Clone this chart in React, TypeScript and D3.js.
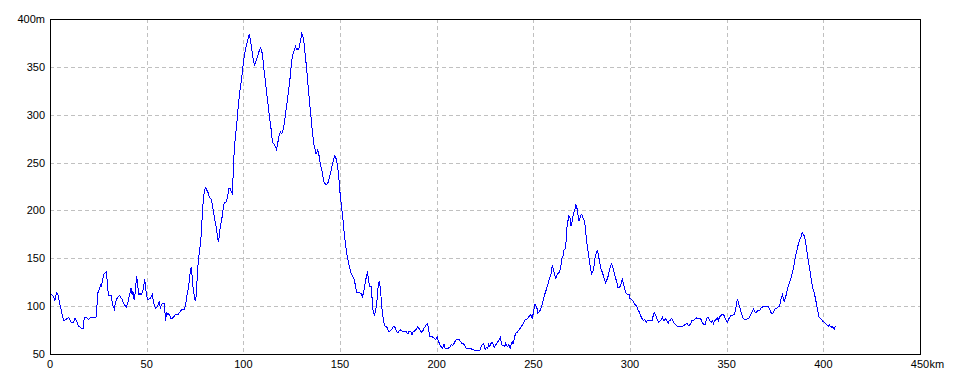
import React, { useEffect } from "react";
import * as d3 from "d3";

// distance along route (km) and elevation (m)
const distanceKm: number[] = [
  0, 0.5, 1.9, 2.4, 3.4, 4.1, 5.2, 6.2, 7.1, 8.1, 9.7, 11.0, 12.1, 12.9, 13.7, 14.8, 16.2, 17.2, 17.7, 19.0,
  19.8, 20.9, 23.1, 23.9, 24.3, 24.8, 25.7, 26.2, 26.5, 27.1, 27.8, 28.5, 29.3, 29.7, 30.5, 31.7, 32.4, 33.3, 34.0, 34.9,
  36.1, 37.3, 38.3, 39.5, 40.4, 41.3, 41.9, 42.5, 42.8, 43.5, 44.2, 44.7, 45.2, 45.7, 45.9, 46.6, 47.4, 48.1, 48.7, 49.0,
  49.5, 49.9, 50.6, 51.7, 52.9, 53.8, 54.6, 55.7, 56.5, 57.1, 57.8, 59.1, 59.8, 60.3, 60.9, 61.5, 62.6, 63.8, 64.7, 66.1,
  67.2, 68.1, 69.5, 70.2, 71.0, 71.6, 72.4, 73.0, 73.4, 74.0, 74.6, 75.1, 75.6, 75.9, 76.3, 76.8, 77.4, 77.9, 78.4, 78.8,
  79.3, 79.8, 80.4, 81.2, 81.9, 82.6, 83.3, 84.0, 84.7, 85.4, 86.1, 86.6, 87.1, 87.6, 88.1, 88.8, 89.4, 90.1, 91.3, 91.8,
  92.5, 93.2, 93.7, 94.2, 94.6, 94.9, 95.4, 95.9, 96.4, 97.0, 97.5, 98.0, 98.5, 99.1, 99.6, 100.1, 100.7, 101.2, 101.7, 102.2,
  102.8, 103.1, 103.6, 104.2, 104.7, 105.2, 105.7, 106.3, 106.8, 107.3, 107.8, 108.4, 108.9, 109.4, 110.0, 110.5, 111.0, 111.5, 112.1, 112.6,
  113.1, 113.6, 114.2, 114.7, 115.2, 115.9, 116.6, 117.1, 117.6, 118.1, 118.6, 119.2, 119.7, 120.2, 120.7, 121.2, 121.8, 122.3, 122.8, 123.3,
  123.9, 124.4, 124.9, 125.4, 126.0, 126.5, 127.0, 127.6, 128.1, 128.6, 129.1, 129.7, 130.2, 130.7, 131.2, 131.7, 132.2, 132.8, 133.3, 133.8,
  134.4, 134.9, 135.4, 135.9, 136.4, 137.0, 137.5, 138.0, 138.5, 139.1, 139.6, 140.1, 140.7, 141.2, 141.7, 142.2, 142.9, 143.6, 144.1, 144.6,
  145.2, 145.7, 146.2, 146.7, 147.3, 148.0, 148.5, 149.0, 149.5, 149.9, 150.4, 150.9, 151.4, 151.9, 152.5, 153.0, 153.5, 154.0, 154.5, 155.0,
  155.6, 156.1, 156.9, 157.4, 157.9, 158.5, 159.0, 160.1, 160.9, 161.6, 162.3, 162.8, 163.3, 163.8, 164.2, 164.7, 165.2, 165.8, 166.3, 166.8,
  167.4, 167.9, 168.4, 168.8, 169.3, 169.8, 170.3, 170.9, 171.4, 171.9, 172.5, 173.0, 173.5, 174.0, 174.5, 175.1, 175.8, 176.4, 177.1, 177.8,
  178.7, 179.4, 180.1, 180.6, 181.3, 182.2, 183.4, 184.4, 185.1, 185.8, 186.5, 187.2, 187.9, 188.5, 189.2, 189.7, 190.2, 190.8, 191.4, 192.1,
  192.8, 193.5, 194.2, 194.8, 195.3, 195.8, 196.3, 196.8, 197.7, 198.5, 199.4, 200.3, 200.8, 201.4, 202.2, 203.1, 203.8, 204.3, 205.2, 205.9,
  206.8, 207.6, 208.3, 209.0, 209.7, 210.3, 211.7, 212.4, 213.1, 213.8, 214.5, 215.2, 216.2, 217.2, 218.3, 219.3, 222.4, 222.9, 223.6, 224.1,
  224.6, 225.1, 225.8, 226.4, 226.9, 227.4, 228.1, 228.8, 229.3, 229.8, 230.5, 231.0, 231.7, 232.4, 232.9, 233.4, 233.9, 234.6, 235.2, 235.7,
  236.2, 236.7, 237.4, 238.0, 238.5, 239.0, 239.5, 240.0, 240.6, 241.1, 241.8, 242.5, 243.2, 243.9, 244.6, 245.3, 245.9, 246.6, 247.3, 248.0,
  248.7, 249.4, 249.9, 250.4, 250.9, 251.5, 252.0, 252.3, 252.9, 253.4, 253.9, 254.4, 255.0, 255.5, 256.0, 256.5, 257.1, 257.6, 258.1, 258.6,
  259.2, 259.5, 259.9, 260.4, 260.9, 261.6, 262.1, 262.6, 263.3, 263.8, 264.3, 264.8, 265.4, 265.9, 266.4, 266.9, 267.3, 267.6, 268.0, 268.3,
  268.9, 269.2, 269.5, 270.0, 270.6, 271.1, 271.6, 272.0, 272.4, 272.7, 273.1, 273.4, 273.9, 274.5, 275.0, 275.5, 276.1, 276.6, 277.1, 277.6,
  278.2, 278.7, 279.2, 279.7, 280.2, 280.8, 281.3, 281.6, 282.2, 282.7, 283.2, 283.7, 284.2, 284.8, 285.3, 285.8, 286.3, 286.9, 287.4, 287.9,
  288.4, 289.0, 289.5, 290.0, 290.5, 291.2, 291.9, 292.6, 293.3, 293.8, 294.5, 295.2, 296.0, 296.6, 297.1, 297.8, 298.6, 299.5, 300.0, 300.7,
  301.4, 302.1, 302.8, 303.4, 304.1, 304.8, 305.5, 306.2, 306.9, 307.4, 307.9, 308.5, 309.0, 309.5, 310.2, 310.8, 311.4, 312.0, 312.5, 313.2,
  313.7, 314.2, 314.9, 315.6, 316.3, 316.8, 317.3, 317.8, 318.4, 319.1, 319.7, 320.3, 320.8, 321.3, 321.9, 322.6, 323.3, 324.0, 324.6, 325.3,
  326.0, 326.7, 327.4, 328.1, 328.7, 329.4, 330.1, 330.8, 331.4, 332.1, 332.8, 333.5, 334.2, 334.9, 335.6, 336.2, 336.9, 337.5, 338.2, 338.9,
  339.4, 339.9, 340.6, 341.3, 342.0, 342.7, 343.2, 343.8, 344.5, 345.2, 345.7, 346.2, 346.9, 347.5, 348.2, 348.7, 349.2, 349.8, 350.3, 350.8,
  351.4, 352.1, 352.8, 353.4, 354.0, 354.5, 355.0, 355.5, 355.9, 356.4, 356.9, 357.4, 358.1, 358.6, 359.5, 360.3, 361.0, 361.7, 362.4, 363.1,
  363.8, 364.3, 364.8, 365.5, 366.0, 366.7, 367.3, 367.8, 368.5, 369.2, 369.9, 370.6, 371.3, 372.0, 372.7, 373.4, 374.0, 374.7, 375.4, 376.1,
  376.6, 377.2, 377.7, 378.2, 378.8, 379.3, 379.8, 380.3, 380.8, 381.3, 381.8, 382.4, 382.9, 383.4, 383.9, 384.5, 385.0, 385.5, 386.0, 386.5,
  387.1, 387.6, 388.1, 388.6, 389.1, 389.7, 390.2, 390.7, 391.2, 391.7, 392.2, 392.8, 393.3, 393.8, 394.3, 394.8, 395.4, 395.9, 396.4, 396.9,
  397.4, 397.9, 398.5, 399.1, 399.8, 400.5, 401.2, 401.9, 402.6, 403.1, 403.6, 404.1, 404.7, 405.2, 405.7, 406.2, 406.7,
];

const elevationM: number[] = [
  115, 113, 110, 105, 114, 112, 101, 92, 85, 86, 88, 83, 83, 87, 85, 79, 77, 77, 88, 88,
  86, 88, 88, 89, 101, 114, 119, 123, 120, 126, 133, 135, 136, 119, 111, 111, 101, 97, 105, 109,
  111, 107, 102, 99, 105, 113, 119, 112, 116, 107, 115, 131, 127, 115, 112, 113, 112, 117, 124, 128,
  119, 112, 107, 108, 112, 102, 98, 100, 105, 98, 102, 103, 85, 94, 91, 92, 87, 88, 91, 91,
  94, 96, 96, 102, 113, 119, 133, 141, 134, 119, 111, 106, 110, 120, 137, 148, 159, 167, 180, 197,
  211, 220, 224, 221, 218, 213, 212, 206, 197, 188, 181, 173, 167, 174, 183, 190, 199, 208, 209, 214,
  223, 223, 220, 218, 230, 249, 265, 277, 286, 300, 312, 321, 329, 338, 347, 355, 364, 369, 373, 377,
  382, 384, 378, 371, 364, 357, 352, 354, 358, 361, 364, 368, 370, 368, 361, 350, 342, 333, 322, 314,
  305, 296, 288, 278, 271, 269, 267, 264, 268, 274, 279, 282, 280, 281, 285, 291, 300, 308, 315, 324,
  333, 343, 354, 361, 366, 368, 371, 368, 369, 368, 373, 378, 385, 383, 378, 369, 359, 347, 335, 324,
  310, 300, 289, 279, 270, 265, 260, 260, 263, 258, 251, 246, 241, 235, 230, 228, 227, 228, 231, 235,
  240, 245, 249, 253, 257, 254, 249, 242, 232, 221, 211, 202, 194, 181, 171, 162, 155, 150, 145, 140,
  135, 133, 130, 128, 122, 115, 114, 114, 113, 110, 115, 122, 127, 133, 135, 129, 121, 121, 120, 99,
  93, 90, 96, 99, 110, 122, 126, 119, 105, 93, 86, 80, 79, 79, 77, 74, 74, 75, 77, 79,
  77, 73, 72, 74, 75, 74, 74, 73, 71, 74, 74, 70, 74, 74, 75, 77, 79, 77, 75, 73,
  74, 77, 79, 81, 82, 77, 68, 68, 68, 67, 65, 68, 64, 61, 58, 56, 60, 56, 56, 56,
  57, 60, 59, 61, 64, 65, 65, 63, 61, 61, 59, 56, 56, 56, 55, 54, 54, 57, 60, 61,
  59, 55, 57, 56, 60, 58, 61, 62, 60, 57, 59, 61, 63, 65, 67, 62, 59, 59, 58, 61,
  59, 58, 60, 56, 60, 63, 61, 65, 70, 72, 73, 75, 77, 79, 81, 84, 86, 86, 88, 90,
  91, 87, 92, 98, 102, 100, 97, 93, 94, 95, 98, 101, 105, 109, 113, 116, 120, 123, 127, 130,
  134, 140, 143, 138, 134, 129, 132, 134, 135, 138, 143, 150, 153, 159, 160, 167, 180, 187, 190, 194,
  193, 188, 184, 188, 195, 199, 202, 206, 204, 201, 195, 190, 190, 195, 196, 193, 191, 187, 178, 167,
  159, 152, 145, 138, 134, 136, 140, 148, 153, 157, 158, 153, 147, 140, 138, 134, 132, 127, 124, 127,
  129, 134, 139, 142, 144, 140, 134, 129, 124, 119, 119, 122, 128, 124, 119, 114, 112, 112, 108, 107,
  106, 103, 101, 100, 96, 94, 90, 87, 85, 86, 85, 83, 85, 85, 85, 85, 85, 90, 93, 91,
  88, 85, 83, 85, 86, 88, 85, 85, 87, 85, 82, 85, 85, 87, 86, 83, 81, 80, 79, 79,
  79, 79, 79, 80, 81, 82, 80, 80, 82, 85, 85, 86, 88, 87, 87, 87, 86, 82, 81, 81,
  85, 88, 88, 85, 83, 85, 82, 85, 86, 88, 85, 88, 90, 91, 91, 90, 87, 85, 83, 85,
  88, 90, 90, 91, 91, 95, 101, 107, 105, 101, 98, 94, 90, 87, 86, 86, 87, 88, 91, 94,
  97, 95, 93, 94, 95, 95, 96, 98, 99, 100, 100, 100, 100, 98, 94, 92, 93, 96, 98, 98,
  99, 100, 103, 108, 112, 108, 105, 108, 112, 117, 120, 124, 127, 130, 134, 140, 145, 151, 156, 160,
  165, 168, 171, 173, 177, 175, 173, 168, 162, 155, 148, 141, 134, 127, 122, 117, 113, 108, 103, 97,
  92, 88, 87, 86, 84, 83, 82, 80, 79, 81, 79, 78, 79, 77, 76, 79, 79,
];

const xTicks: number[] = [0, 50, 100, 150, 200, 250, 300, 350, 400, 450];
const yTicks: number[] = [50, 100, 150, 200, 250, 300, 350, 400];
const xUnit = "km";
const yUnit = "m";

const W = 960;
const H = 384;
const left = 50;
const right = 920;
const top = 19;
const bottom = 354;
const FONT = "'Liberation Sans', Arial, sans-serif";

export default function App() {
  useEffect(() => {
    document.body.style.margin = "0";
  }, []);

  const x = d3.scaleLinear().domain([0, 450]).range([left, right]);
  const y = d3.scaleLinear().domain([50, 400]).range([bottom, top]);

  const pts: [number, number][] = distanceKm.map((d, i) => [d, elevationM[i]]);
  const line = d3
    .line<[number, number]>()
    .x((d) => x(d[0]))
    .y((d) => y(d[1]));

  return (
    <svg width={W} height={H} style={{ position: "absolute", left: 0, top: 0, background: "#fff" }}>
      <rect x={0} y={0} width={W} height={H} fill="#fff" />
      {/* grid */}
      <g stroke="#c0c0c0" strokeWidth={1} strokeDasharray="4,3" shapeRendering="crispEdges">
        {yTicks
          .filter((t) => t !== 50 && t !== 400)
          .map((t) => (
            <line key={"gy" + t} x1={left} x2={right} y1={Math.round(y(t)) + 0.5} y2={Math.round(y(t)) + 0.5} />
          ))}
        {xTicks
          .filter((t) => t !== 0 && t !== 450)
          .map((t) => (
            <line key={"gx" + t} x1={Math.round(x(t)) + 0.5} x2={Math.round(x(t)) + 0.5} y1={top} y2={bottom} />
          ))}
      </g>
      {/* data line */}
      <path d={line(pts) || ""} fill="none" stroke="#0000ff" strokeWidth={1} shapeRendering="crispEdges" />
      {/* frame */}
      <rect
        x={left + 0.5}
        y={top + 0.5}
        width={right - left}
        height={bottom - top}
        fill="none"
        stroke="#000"
        strokeWidth={1}
        shapeRendering="crispEdges"
      />
      {/* y labels */}
      <g fontFamily={FONT} fontSize={11} fill="#000">
        {yTicks.map((t) => (
          <text key={"ly" + t} x={45} y={y(t) + 4} textAnchor="end">
            {t === 400 ? `${t}${yUnit}` : t}
          </text>
        ))}
        {xTicks.map((t) => (
          <text key={"lx" + t} x={x(t)} y={368} textAnchor="middle">
            {t}
          </text>
        ))}
        <text x={x(450) + 9.5} y={368} textAnchor="start">
          {xUnit}
        </text>
      </g>
    </svg>
  );
}
